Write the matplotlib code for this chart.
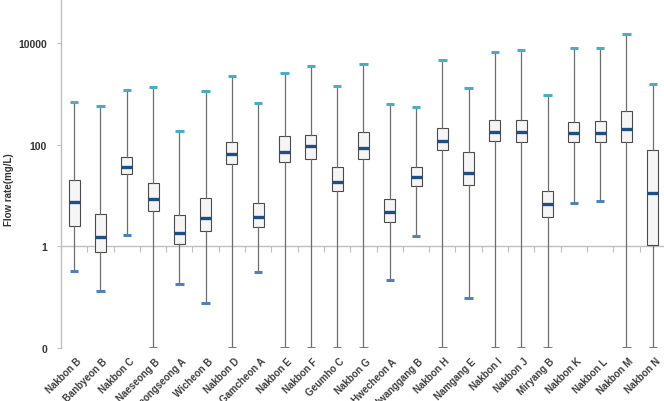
import matplotlib
matplotlib.use("Agg")
import matplotlib.pyplot as plt
import matplotlib.transforms as mtransforms

categories = ["Nakbon B", "Banbyeon B", "Nakbon C", "Naeseong B", "Byeongseong A",
              "Wicheon B", "Nakbon D", "Gamcheon A", "Nakbon E", "Nakbon F",
              "Geumho C", "Nakbon G", "Hwecheon A", "Hwanggang B", "Nakbon H",
              "Namgang E", "Nakbon I", "Nakbon J", "Miryang B", "Nakbon K",
              "Nakbon L", "Nakbon M", "Nakbon N"]
whisker_high = [690, 580, 1160, 1330, 185, 1130, 2250, 660, 2500, 3540,
                1450, 3820, 630, 540, 4700, 1310, 6650, 7400, 940, 7950,
                7950, 14800, 1540]
q3_values = [20, 4.25, 57, 17.4, 4.2, 8.9, 111, 7.2, 148, 157,
             37, 174, 8.7, 37, 210, 71, 305, 305, 12.4, 283,
             293, 466, 77]
medians = [7.4, 1.5, 36, 8.7, 1.83, 3.6, 66, 3.8, 71, 93,
           18.7, 85, 4.7, 23.5, 118, 27.7, 175, 175, 6.7, 167,
           167, 203, 11.2]
q1_values = [2.5, 0.76, 27, 5.0, 1.1, 2.0, 41, 2.4, 45.6, 52,
             12, 52, 3.06, 15.4, 80, 15.8, 118, 111, 3.8, 113,
             111, 113, 1.08]
whisker_low = [0.33, 0.13, 1.7, 0.01, 0.18, 0.076, 0.01, 0.31, 0.01, 0.01,
               0.01, 0.01, 0.22, 1.6, 0.01, 0.098, 0.01, 0.01, 0.01, 7.1,
               7.9, 0.01, 0.01]
ytick_values = [0.01, 1, 100, 10000]
ytick_labels = ["0", "1", "100", "10000"]

plt.rcParams['font.family'] = ['Liberation Sans', 'DejaVu Sans']

fig = plt.figure(figsize=(6.64, 4.02), dpi=100)
ax = fig.add_axes([61 / 664, 53 / 402, 604.9 / 664, 349 / 402])

stats = []
for i, name in enumerate(categories):
    stats.append(dict(label=name, med=medians[i], q1=q1_values[i], q3=q3_values[i],
                      whislo=whisker_low[i], whishi=whisker_high[i], fliers=[]))

positions = list(range(len(categories)))
res = ax.bxp(stats, positions=positions, widths=0.42, capwidths=0.32,
             patch_artist=True, showfliers=False,
             boxprops=dict(facecolor='#f5f5f5', edgecolor='#4a4a4a', linewidth=0.8),
             whiskerprops=dict(color='#6e6e6e', linewidth=0.9),
             medianprops=dict(color='#1f4e85', linewidth=2.4, solid_capstyle='butt'),
             capprops=dict(linewidth=2.2, solid_capstyle='butt'))
for k, cap in enumerate(res['caps']):
    cap.set_color('#4f81bd' if k % 2 == 0 else '#4bacc6')
    cap.set_zorder(3)

ax.set_yscale('log')
ax.set_ylim(0.01, 10 ** (4 + 44 / 51))
ax.set_xlim(-0.5, len(categories) - 0.5)

ax.set_yticks(ytick_values)
ax.set_yticklabels(ytick_labels, fontsize=7.5, fontweight='bold', color='#333333')
ax.yaxis.set_minor_locator(matplotlib.ticker.NullLocator())
ax.tick_params(axis='y', length=3, color='#bfbfbf', pad=7)

for s in ['top', 'right']:
    ax.spines[s].set_visible(False)
ax.spines['left'].set_color('#bfbfbf')
ax.spines['left'].set_linewidth(1.0)
ax.spines['bottom'].set_position(('data', 1))
ax.spines['bottom'].set_color('#bfbfbf')
ax.spines['bottom'].set_linewidth(1.0)
ax.set_xticks([p - 0.5 for p in positions] + [len(categories) - 0.5])
ax.set_xticklabels([])
ax.tick_params(axis='x', length=4, color='#bfbfbf', direction='out')
ax.spines['bottom'].set_zorder(0.5)

trans = mtransforms.blended_transform_factory(ax.transData, ax.transAxes)
for i, name in enumerate(categories):
    ax.text(i + 0.08, -0.022, name, transform=trans, rotation=45,
            ha='right', va='top', rotation_mode='anchor',
            fontsize=7, fontweight='bold', color='#404040')

fig.text(9 / 664, 1 - 190 / 402, "Flow rate(mg/L)", rotation=90, ha='center', va='center',
         fontsize=7, fontweight='bold', color='#333333')

fig.savefig("out.png", dpi=100)
